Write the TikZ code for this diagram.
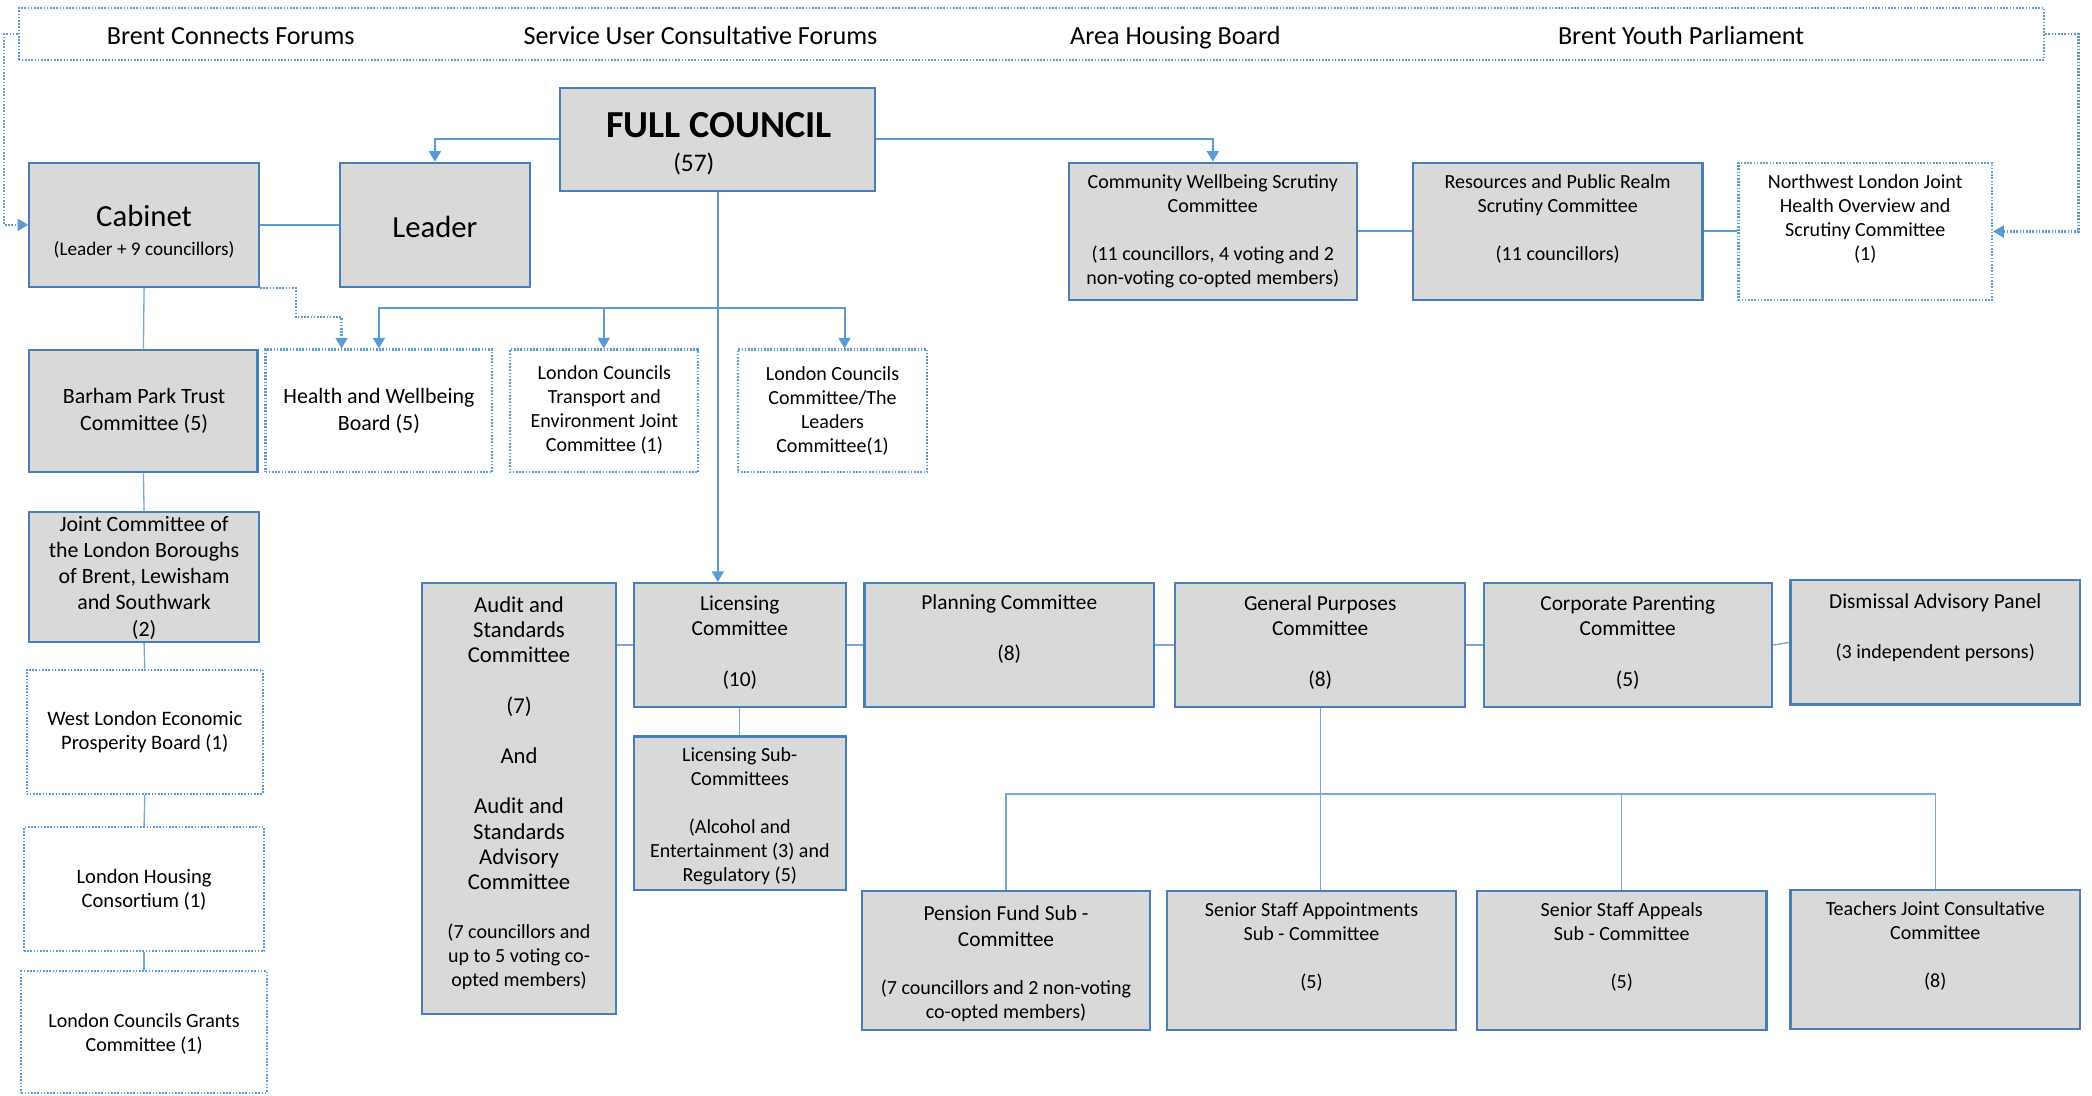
\documentclass[tikz,border=0pt]{standalone}
\usepackage{fontspec}
\setmainfont{Carlito}
\usetikzlibrary{arrows.meta,calc}
\definecolor{boxgray}{HTML}{D9D9D9}
\definecolor{boxblue}{HTML}{4A7EBB}
\definecolor{lnblue}{HTML}{5B9BD5}
\newcommand{\fsz}[2]{\fontsize{#1}{#2}\selectfont}
\begin{document}
\begin{tikzpicture}[x=0.5pt,y=-0.5pt,
  gbox/.style={draw=boxblue, fill=boxgray, line width=0.8pt, inner sep=0pt, rectangle},
  dbox/.style={draw=lnblue, fill=white, line width=0.85pt, dash pattern=on 0.6pt off 0.6pt, inner sep=0pt, rectangle},
  txt/.style={align=center, inner sep=0pt, text=black},
  bandtxt/.style={txt, font=\fsz{9.8}{11}, text height=0.72em, text depth=0.22em},
  conn/.style={draw=lnblue, line width=0.75pt},
  thinln/.style={draw=lnblue!85, line width=0.5pt},
  arr/.style={conn, -{Triangle[width=4.5pt,length=4pt]}},
  darr/.style={draw=lnblue, line width=0.85pt, dash pattern=on 0.6pt off 0.6pt, -{Triangle[width=4.5pt,length=4pt]}},
]
\useasboundingbox (0,0) rectangle (1568,821);
\fill[white] (0,0) rectangle (1568,821);

% ---------- boxes ----------
\node[dbox, minimum width=759pt, minimum height=19.5pt] (band) at (773,25.5) {};
\node[gbox, minimum width=118pt, minimum height=38.5pt] (fc) at (538,104.5) {};
\node[gbox, minimum width=86pt, minimum height=46.5pt] (cab) at (108,168.5) {};
\node[gbox, minimum width=71pt, minimum height=46.5pt] (leader) at (326,168.5) {};
\node[gbox, minimum width=108pt, minimum height=51.5pt] (cw) at (909,173.5) {};
\node[gbox, minimum width=108.5pt, minimum height=51.5pt] (rpr) at (1167.5,173.5) {};
\node[dbox, minimum width=95pt, minimum height=51.5pt] (nw) at (1398,173.5) {};
\node[gbox, minimum width=85.5pt, minimum height=46pt] (bp) at (107.5,308) {};
\node[dbox, minimum width=85pt, minimum height=46pt] (hw) at (284,308) {};
\node[dbox, minimum width=70.5pt, minimum height=46pt] (lct) at (452.5,308) {};
\node[dbox, minimum width=71pt, minimum height=46pt] (lcc) at (624,308) {};
\node[gbox, minimum width=86pt, minimum height=48.5pt] (jc) at (108,432.5) {};
\node[dbox, minimum width=88.5pt, minimum height=46.5pt] (wl) at (108.5,548.5) {};
\node[dbox, minimum width=90pt, minimum height=46.5pt] (lhc) at (108,666.5) {};
\node[dbox, minimum width=92pt, minimum height=45.5pt] (lcg) at (108,773.5) {};
\node[gbox, minimum width=73pt, minimum height=161.5pt] (aud) at (389,598.5) {};
\node[gbox, minimum width=79.5pt, minimum height=46.5pt] (lic) at (554.5,483.5) {};
\node[gbox, minimum width=108.5pt, minimum height=46.5pt] (pl) at (756.5,483.5) {};
\node[gbox, minimum width=108.5pt, minimum height=46.5pt] (gp) at (989.5,483.5) {};
\node[gbox, minimum width=108pt, minimum height=46.5pt] (cp) at (1220,483.5) {};
\node[gbox, minimum width=108.5pt, minimum height=46.5pt] (dap) at (1450.5,481.5) {};
\node[gbox, minimum width=79.5pt, minimum height=57.5pt] (ls) at (554.5,609.5) {};
\node[gbox, minimum width=108pt, minimum height=52pt] (pf) at (754,720) {};
\node[gbox, minimum width=108pt, minimum height=52pt] (ssa) at (983,720) {};
\node[gbox, minimum width=108.5pt, minimum height=52pt] (ssap) at (1215.5,720) {};
\node[gbox, minimum width=108.5pt, minimum height=52pt] (tj) at (1450.5,719) {};

% ---------- texts ----------
\node[bandtxt] (t1) at (173,28.5) {Brent Connects Forums};
\node[bandtxt] (t2) at (525,28.5) {Service User Consultative Forums};
\node[bandtxt] (t3) at (881,28.5) {Area Housing Board};
\node[bandtxt] (t4) at (1260,28.5) {Brent Youth Parliament};
\node[txt, font=\bfseries\fsz{14.3}{16}] (fct) at (539,94) {FULL COUNCIL};
\node[txt, font=\fsz{9.5}{11}] (fcn) at (520,123) {(57)};
\node[txt, font=\fsz{11.5}{13}] (cabt) at (108,162) {Cabinet};
\node[txt, font=\fsz{7.2}{9}] (cabs) at (108,187) {(Leader + 9 councillors)};
\node[txt, font=\fsz{11.5}{13}] (leadt) at (326,170) {Leader};
\node[txt, font=\fsz{7.5}{9}] (cwt) at (909,173) {Community Wellbeing Scrutiny\\Committee\\[9pt](11 councillors, 4 voting and 2\\non-voting co-opted members)};
\node[txt, font=\fsz{7.5}{9}] (rprt) at (1167.5,164) {Resources and Public Realm\\Scrutiny Committee\\[9pt](11 councillors)};
\node[txt, font=\fsz{7.5}{9}] (nwt) at (1398,164) {Northwest London Joint\\Health Overview and\\Scrutiny Committee\\(1)};
\node[txt, font=\fsz{8.2}{10}] (bpt) at (108,308) {Barham Park Trust\\Committee (5)};
\node[txt, font=\fsz{8.2}{10}] (hwt) at (284,308) {Health and Wellbeing\\Board (5)};
\node[txt, font=\fsz{7.5}{9}] (lctt) at (453,307) {London Councils\\Transport and\\Environment Joint\\Committee (1)};
\node[txt, font=\fsz{7.5}{9}] (lcct) at (624,308) {London Councils\\Committee/The\\Leaders\\Committee(1)};
\node[txt, font=\fsz{8.2}{9.8}] (jct) at (108,433) {Joint Committee of\\the London Boroughs\\of Brent, Lewisham\\and Southwark\\(2)};
\node[txt, font=\fsz{7.7}{9}] (wlt) at (108.5,549) {West London Economic\\Prosperity Board (1)};
\node[txt, font=\fsz{7.7}{9}] (lhct) at (108,667) {London Housing\\Consortium (1)};
\node[txt, font=\fsz{7.5}{9}] (lcgt) at (108,775) {London Councils Grants\\Committee (1)};
\node[txt, font=\fsz{8.5}{9.45}] (audt) at (389,557) {Audit and\\Standards\\Committee\\[9.45pt](7)\\[9.45pt]And\\[9.45pt]Audit and\\Standards\\Advisory\\Committee};
\node[txt, font=\fsz{7.5}{9}] (auds) at (389,717) {(7 councillors and\\up to 5 voting co-\\opted members)};
\node[txt, font=\fsz{8}{9.5}] (lict) at (554.5,481.5) {Licensing\\Committee\\[9.5pt](10)};
\node[txt, font=\fsz{8}{9.5}] (plt) at (756.5,471.5) {Planning Committee\\[9.5pt](8)};
\node[txt, font=\fsz{8}{9.5}] (gpt) at (989.5,481.5) {General Purposes\\Committee\\[9.5pt](8)};
\node[txt, font=\fsz{8}{9.5}] (cpt) at (1220,481.5) {Corporate Parenting\\Committee\\[9.5pt](5)};
\node[txt, font=\fsz{8}{9.5}] (dapt) at (1450.5,452) {Dismissal Advisory Panel};
\node[txt, font=\fsz{7.5}{9}] (daps) at (1450.5,489) {(3 independent persons)};
\node[txt, font=\fsz{7.5}{9}] (lst) at (554.5,612) {Licensing Sub-\\Committees\\[9pt](Alcohol and\\Entertainment (3) and\\Regulatory (5)};
\node[txt, font=\fsz{8}{9.8}] (pft) at (754,694) {Pension Fund Sub -\\Committee};
\node[txt, font=\fsz{7.5}{9}] (pfs) at (754,750) {(7 councillors and 2 non-voting\\co-opted members)};
\node[txt, font=\fsz{7.5}{9}] (ssat) at (983,710) {Senior Staff Appointments\\Sub - Committee\\[9pt](5)};
\node[txt, font=\fsz{7.5}{9}] (ssapt) at (1215.5,710) {Senior Staff Appeals\\Sub - Committee\\[9pt](5)};
\node[txt, font=\fsz{7.5}{9}] (tjt) at (1450.5,709) {Teachers Joint Consultative\\Committee\\[9pt](8)};

% ---------- connectors ----------
\draw[arr] (fc.west) -| (leader.north);
\draw[arr] (fc.east) -| (cw.north);
\draw[arr] (fc.south) -- (fc.south |- lic.north);
\coordinate (fcj) at (538,231);
\draw[arr] (fcj) -| (hw.north);
\draw[arr] (fcj) -| (lct.north);
\draw[arr] (fcj) -| ($(lcc.north)+(9,0)$);
\draw[conn] (cab.east) -- (leader.west);
\draw[thinln] (cab.south) -- (bp.north);
\draw[darr] (cab.south east) -- ++(27,0) -- ++(0,22) -| ($(hw.north)+(-28,0)$);
\draw[darr] (band.west) -- ++(-10,0) |- (cab.west);
\draw[darr] (band.east) -- ++(25,0) |- (nw.east);
\draw[conn] (cw.east) -- (rpr.west);
\draw[conn] (rpr.east) -- (nw.west);
\draw[thinln] (bp.south) -- (jc.north);
\draw[thinln] (jc.south) -- (wl.north);
\draw[thinln] (wl.south) -- (lhc.north);
\draw[thinln] (lhc.south) -- (lcg.north);
\draw[thinln] (aud.east |- lic.west) -- (lic.west);
\draw[thinln] (lic.east) -- (pl.west);
\draw[thinln] (pl.east) -- (gp.west);
\draw[thinln] (gp.east) -- (cp.west);
\draw[thinln] (cp.east) -- (dap.west);
\draw[thinln] (lic.south) -- (ls.north);
\coordinate (gpj) at (989.5,595);
\draw[thinln] (gp.south) -- (gp.south |- ssa.north);
\draw[thinln] (gpj) -| (pf.north);
\draw[thinln] (gpj) -| (ssap.north);
\draw[thinln] (gpj) -| (tj.north);
\end{tikzpicture}
\end{document}
